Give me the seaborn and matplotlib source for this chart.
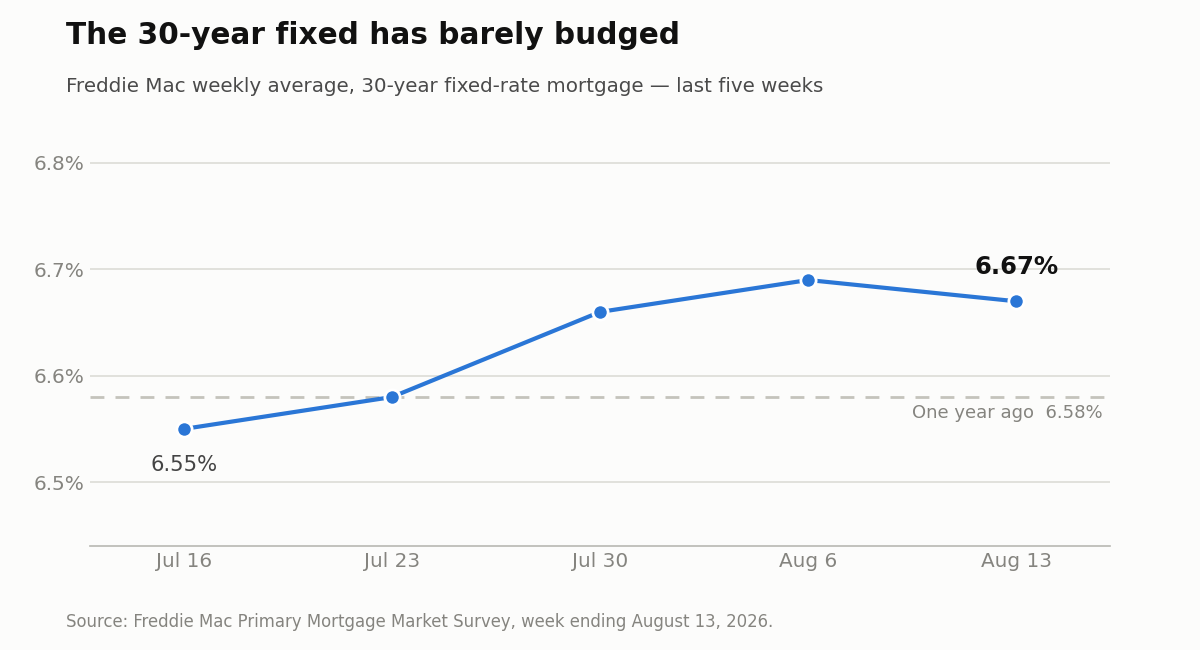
import matplotlib
matplotlib.use("Agg")
import matplotlib.pyplot as plt
import seaborn as sns
import pandas as pd

weeks = ["Jul 16", "Jul 23", "Jul 30", "Aug 6", "Aug 13"]
rates = [6.55, 6.58, 6.66, 6.69, 6.67]
year_ago = 6.58
y_ticks = [6.5, 6.6, 6.7, 6.8]

BG = "#fcfcfb"
BLUE = "#2a76d6"
GRID = "#dcdcd6"
TICK = "#85847f"

sns.set_theme(style="white")
plt.rcParams['font.family'] = ['DejaVu Sans']

df = pd.DataFrame({"week": weeks, "rate": rates, "x": range(len(weeks))})

fig = plt.figure(figsize=(12, 6.5), dpi=100, facecolor=BG)
ax = fig.add_axes([0.075, 0.16, 0.85, 0.64])
ax.set_facecolor(BG)

for t in y_ticks:
    ax.axhline(t, color=GRID, lw=1.2, zorder=0)
ax.axhline(year_ago, color="#c4c3bc", lw=2, ls=(0, (5, 4)), zorder=1)

sns.lineplot(data=df, x="x", y="rate", ax=ax, color=BLUE, lw=3, zorder=3,
             marker="o", markersize=11, markeredgecolor="white", markeredgewidth=2)

ax.set_xlim(-0.45, len(weeks) - 0.55)
ax.set_ylim(6.44, 6.831)
ax.set_xticks(range(len(weeks)))
ax.set_xticklabels(weeks)
ax.set_yticks(y_ticks)
ax.set_yticklabels([f"{t:.1f}%" for t in y_ticks])
ax.set_xlabel("")
ax.set_ylabel("")
ax.tick_params(axis="both", length=0, labelsize=14.4, labelcolor=TICK)
ax.tick_params(axis="x", pad=4)
ax.tick_params(axis="y", pad=4)
for s in ["top", "right", "left"]:
    ax.spines[s].set_visible(False)
ax.spines["bottom"].set_color("#b8b8b2")
ax.spines["bottom"].set_linewidth(1.2)

ax.annotate(f"{rates[0]:.2f}%", (0, rates[0]), xytext=(0, -19), textcoords="offset points",
            ha="center", va="top", fontsize=15.2, color="#444444")
ax.annotate(f"{rates[-1]:.2f}%", (len(weeks) - 1, rates[-1]), xytext=(0, 16), textcoords="offset points",
            ha="center", va="bottom", fontsize=17.5, fontweight="bold", color="#111111")
ax.annotate(f"One year ago  {year_ago:.2f}%", (len(weeks) - 0.584, year_ago), xytext=(0, -5),
            textcoords="offset points", ha="right", va="top", fontsize=13, color=TICK,
            annotation_clip=False)

fig.text(66 / 1200, 1 - 36 / 650, "The 30-year fixed has barely budged", fontsize=21.3,
         fontweight="bold", color="#111111", va="center", ha="left")
fig.text(66 / 1200, 1 - 86 / 650, "Freddie Mac weekly average, 30-year fixed-rate mortgage \u2014 last five weeks",
         fontsize=14.3, color="#4a4a4a", va="center", ha="left")
fig.text(66 / 1200, 1 - 622 / 650, "Source: Freddie Mac Primary Mortgage Market Survey, week ending August 13, 2026.",
         fontsize=11.9, color=TICK, va="center", ha="left")

fig.savefig("out.png", dpi=100, facecolor=BG)
